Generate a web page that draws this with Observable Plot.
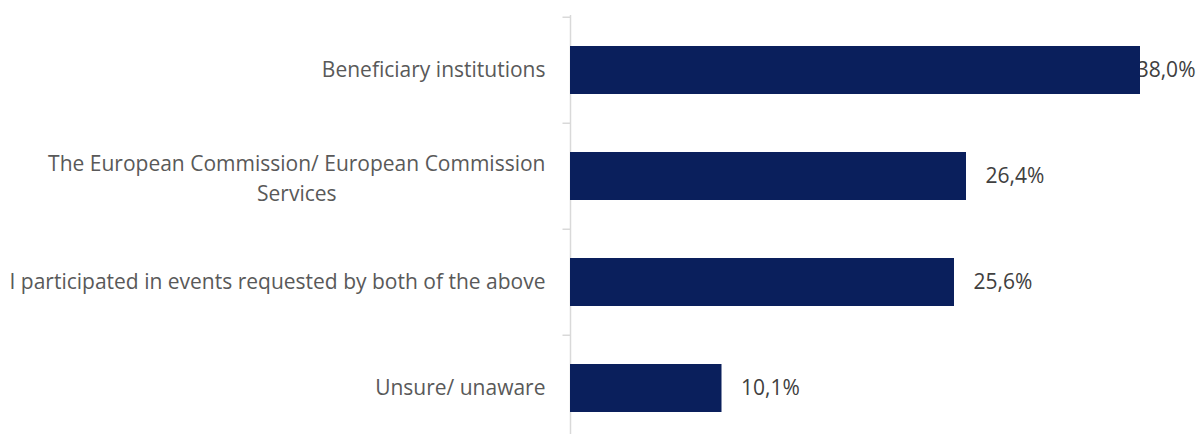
<!DOCTYPE html>
<html>
<head>
<meta charset="utf-8">
<script src="https://cdn.jsdelivr.net/npm/d3@7"></script>
<script src="https://cdn.jsdelivr.net/npm/@observablehq/plot@0.6"></script>
<style>
  html, body { margin: 0; padding: 0; background: #fff; }
  #chart svg { display: block; }
</style>
</head>
<body>
<div id="chart"></div>
<script>
const categories = [
  "Beneficiary institutions",
  "The European Commission/ European Commission\nServices",
  "I participated in events requested by both of the above",
  "Unsure/ unaware"
];
const values = [38.0, 26.4, 25.6, 10.1];
const valueLabels = ["38,0%", "26,4%", "25,6%", "10,1%"];

const FONT = "'Open Sans', sans-serif";
const FS = 21;

const data = categories.map((c, i) => ({cat: c, value: values[i], label: valueLabels[i]}));
const maxV = d3.max(values);

// measure widest line of multi-line labels so the lines can be centred on each other
const ctx = document.createElement("canvas").getContext("2d");
ctx.font = `${FS}px 'Open Sans'`;
const widest = s => d3.max(s.split("\n"), l => ctx.measureText(l).width);

const gap = 25;
const single = data.filter(d => !d.cat.includes("\n"));
const multi = data.filter(d => d.cat.includes("\n"));

const marks = [
  Plot.ruleX([0], {stroke: "#d9d9d9", strokeWidth: 1.5}),
  Plot.ruleY(categories, {y: d => d, x1: -0.5, x2: 0, dy: -53.25, stroke: "#d9d9d9", strokeWidth: 1.5}),
  // overflowing label (drawn beneath the bar, pushed inside the chart area)
  Plot.text(data.filter(d => d.value === maxV), {x: "value", y: "cat", text: "label", textAnchor: "end", dx: 55, fill: "#404040", fontSize: FS}),
  Plot.barX(data, {x: "value", y: "cat", fill: "#0a1f5c"}),
  Plot.text(data.filter(d => d.value !== maxV), {x: "value", y: "cat", text: "label", textAnchor: "start", dx: 19, fill: "#404040", fontSize: FS}),
  Plot.text(single, {x: 0, y: "cat", text: "cat", textAnchor: "end", dx: -gap, fill: "#595959", fontSize: FS}),
  ...multi.map(d => Plot.text([d], {x: 0, y: "cat", text: "cat", textAnchor: "middle", dx: -gap - widest(d.cat) / 2, lineHeight: 30 / FS, fill: "#595959", fontSize: FS}))
];

const chart = Plot.plot({
  width: 1199,
  height: 434,
  marginLeft: 570,
  marginRight: 59,
  marginTop: 15,
  marginBottom: 0,
  style: {fontFamily: FONT, background: "#fff"},
  x: {domain: [0, 38], axis: null},
  y: {domain: categories, range: [16, 442], paddingInner: 0.55, paddingOuter: 0.275, axis: null},
  marks
});
document.getElementById("chart").append(chart);
</script>
</body>
</html>
